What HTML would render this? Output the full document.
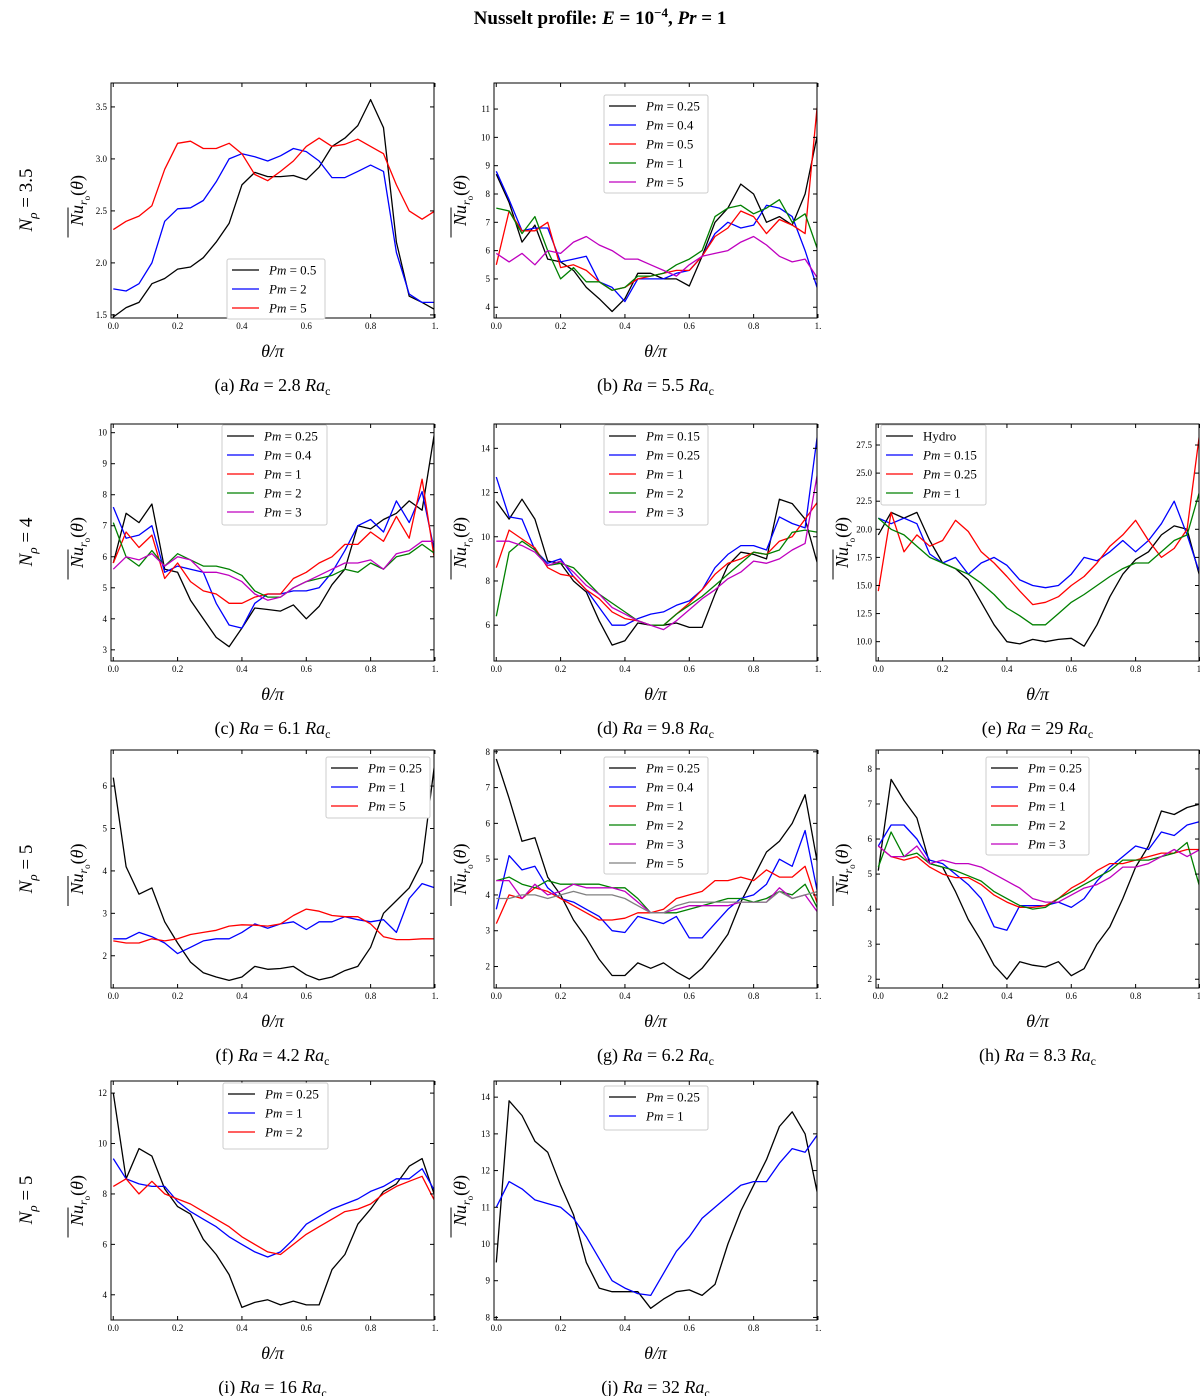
<!DOCTYPE html>
<html><head><meta charset="utf-8"><style>
body{margin:0;background:#fff}
svg{display:block;font-family:"Liberation Serif",serif}
</style></head><body>
<svg id="c" width="1200" height="1396" viewBox="0 0 1200 1396" xmlns="http://www.w3.org/2000/svg">
<text x="600" y="24" text-anchor="middle" font-size="19" font-weight="bold">Nusselt profile: <tspan font-style="italic">E</tspan> = 10<tspan dy="-7" font-size="13">−4</tspan><tspan dy="7">,  </tspan><tspan font-style="italic">Pr</tspan> = 1</text>
<g transform="translate(32,200) rotate(-90)"><text text-anchor="middle" font-size="19"><tspan font-style="italic">N</tspan><tspan font-style="italic" font-size="13" dy="5">ρ</tspan><tspan dy="-5"> = 3.5</tspan></text></g>
<g transform="translate(32,542) rotate(-90)"><text text-anchor="middle" font-size="19"><tspan font-style="italic">N</tspan><tspan font-style="italic" font-size="13" dy="5">ρ</tspan><tspan dy="-5"> = 4</tspan></text></g>
<g transform="translate(32,869) rotate(-90)"><text text-anchor="middle" font-size="19"><tspan font-style="italic">N</tspan><tspan font-style="italic" font-size="13" dy="5">ρ</tspan><tspan dy="-5"> = 5</tspan></text></g>
<g transform="translate(32,1200) rotate(-90)"><text text-anchor="middle" font-size="19"><tspan font-style="italic">N</tspan><tspan font-style="italic" font-size="13" dy="5">ρ</tspan><tspan dy="-5"> = 5</tspan></text></g>
</svg>
<script>
const theta=[0,.04,.08,.12,.16,.2,.24,.28,.32,.36,.4,.44,.48,.52,.56,.6,.64,.68,.72,.76,.8,.84,.88,.92,.96,1];
const a_pm05=[1.48,1.57,1.62,1.8,1.85,1.94,1.96,2.05,2.2,2.38,2.75,2.87,2.83,2.83,2.84,2.8,2.92,3.12,3.2,3.32,3.57,3.3,2.2,1.68,1.62,1.55];
const a_pm2=[1.75,1.73,1.8,2.0,2.4,2.52,2.53,2.6,2.78,3.0,3.05,3.02,2.98,3.03,3.1,3.07,2.98,2.82,2.82,2.88,2.94,2.88,2.1,1.7,1.62,1.62];
const a_pm5=[2.32,2.4,2.45,2.55,2.9,3.15,3.17,3.1,3.1,3.15,3.05,2.85,2.79,2.88,2.98,3.12,3.2,3.12,3.14,3.19,3.12,3.05,2.75,2.5,2.42,2.5];
const b_pm025=[8.7,7.7,6.3,6.9,5.7,5.6,5.3,4.7,4.3,3.85,4.3,5.2,5.2,5.0,5.0,4.75,5.8,7.0,7.5,8.35,8.0,7.0,7.2,6.9,8.0,10.2];
const b_pm04=[8.8,7.8,6.7,6.8,6.8,5.6,5.7,5.8,4.9,4.7,4.2,5.0,5.0,5.0,5.2,5.3,5.8,6.6,7.0,6.8,6.9,7.6,7.5,7.2,6.0,4.6];
const b_pm05=[5.5,7.4,6.7,6.7,7.0,5.4,5.5,5.3,4.9,4.6,4.7,5.0,5.1,5.2,5.3,5.3,5.8,6.5,6.8,7.4,7.2,6.6,7.1,6.9,6.6,11.4];
const b_pm1=[7.5,7.4,6.6,7.2,6.0,5.0,5.4,4.9,4.9,4.6,4.7,5.1,5.1,5.2,5.5,5.7,6.0,7.2,7.5,7.6,7.3,7.5,7.8,7.0,7.3,6.0];
const b_pm5=[5.9,5.6,5.9,5.5,6.0,5.9,6.3,6.5,6.2,6.0,5.7,5.7,5.5,5.3,5.1,5.5,5.8,5.9,6.0,6.3,6.5,6.2,5.8,5.6,5.7,5.0];
const c_pm025=[5.8,7.4,7.1,7.7,5.6,5.5,4.6,4.0,3.4,3.1,3.7,4.35,4.3,4.25,4.45,4.0,4.4,5.1,5.6,7.0,6.9,7.2,7.4,7.8,7.5,10.1];
const c_pm04=[7.6,6.6,6.7,7.0,5.5,5.7,5.6,5.5,4.5,3.8,3.7,4.5,4.8,4.8,4.9,4.9,5.0,5.5,6.2,7.0,7.2,6.8,7.8,7.1,8.1,6.1];
const c_pm1=[5.8,6.8,6.3,6.7,5.3,5.8,5.2,4.9,4.8,4.5,4.5,4.7,4.8,4.8,5.3,5.5,5.8,6.0,6.4,6.4,6.8,6.5,7.3,6.6,8.5,5.8];
const c_pm2=[7.1,6.0,5.7,6.2,5.7,6.1,5.9,5.7,5.7,5.6,5.4,4.9,4.7,4.7,5.0,5.2,5.3,5.4,5.6,5.5,5.8,5.6,6.0,6.1,6.4,6.1];
const c_pm3=[5.6,6.0,5.9,6.1,5.7,6.0,5.9,5.5,5.5,5.4,5.2,4.8,4.6,4.7,5.0,5.2,5.4,5.6,5.8,5.8,5.9,5.6,6.1,6.2,6.5,6.5];
const d_pm015=[11.6,10.8,11.7,10.8,8.9,8.8,8.0,7.5,6.2,5.1,5.3,6.1,6.0,6.0,6.1,5.9,5.9,7.4,8.7,9.3,9.2,9.0,11.7,11.5,10.8,8.7];
const d_pm025=[12.7,10.9,10.8,9.4,8.8,9.0,8.2,7.6,6.8,6.0,6.0,6.3,6.5,6.6,6.9,7.1,7.6,8.6,9.2,9.6,9.6,9.4,10.9,10.6,10.4,14.8];
const d_pm1=[8.6,10.3,9.9,9.5,8.6,8.3,8.2,7.6,7.2,6.6,6.3,6.2,6.0,6.0,6.5,7.0,7.6,8.3,8.8,9.0,9.3,9.2,9.8,10.0,10.8,11.6];
const d_pm2=[6.4,9.3,9.8,9.4,8.7,8.8,8.6,8.0,7.4,7.0,6.6,6.2,6.0,6.0,6.5,6.9,7.3,7.8,8.3,8.8,9.3,9.2,9.4,10.2,10.3,10.2];
const d_pm3=[9.8,9.8,9.6,9.3,8.7,8.9,8.4,7.8,7.4,6.8,6.5,6.2,6.0,5.8,6.2,6.7,7.2,7.6,8.1,8.4,8.9,8.8,9.0,9.4,9.7,13.0];
const e_hydro=[19.5,21.5,21.0,21.5,19.0,17.0,16.5,15.5,13.5,11.5,10.0,9.8,10.2,10.0,10.2,10.3,9.6,11.5,14.0,16.0,17.3,18.0,19.5,20.3,20.0,15.7];
const e_pm015=[21.0,20.5,21.0,20.5,17.8,17.0,17.5,16.0,17.0,17.5,16.8,15.5,15.0,14.8,15.0,16.0,17.5,17.2,18.0,19.0,18.0,19.0,20.5,22.5,19.5,16.0];
const e_pm025=[14.5,21.5,18.0,19.5,18.5,19.0,20.8,19.8,18.0,17.0,15.8,14.5,13.3,13.5,14.0,15.0,15.8,17.0,18.5,19.5,20.8,19.0,17.5,18.3,20.0,28.8];
const e_pm1=[21.0,20.0,19.5,18.5,17.5,17.0,16.5,16.0,15.2,14.2,13.0,12.3,11.5,11.5,12.5,13.5,14.2,15.0,15.8,16.5,17.0,17.0,18.0,19.0,19.5,23.5];
const f_pm025=[6.2,4.1,3.45,3.6,2.8,2.3,1.85,1.6,1.5,1.42,1.5,1.75,1.68,1.7,1.75,1.55,1.43,1.5,1.65,1.75,2.2,3.0,3.3,3.6,4.2,6.6];
const f_pm1=[2.4,2.4,2.55,2.45,2.3,2.05,2.2,2.35,2.4,2.4,2.55,2.75,2.65,2.75,2.8,2.62,2.8,2.8,2.92,2.85,2.8,2.85,2.55,3.35,3.7,3.6];
const f_pm5=[2.35,2.3,2.3,2.4,2.35,2.4,2.5,2.55,2.6,2.7,2.73,2.72,2.7,2.75,2.95,3.1,3.05,2.95,2.92,2.92,2.75,2.45,2.38,2.38,2.4,2.4];
const g_pm025=[7.8,6.7,5.5,5.6,4.5,4.0,3.3,2.8,2.2,1.75,1.75,2.1,1.95,2.1,1.85,1.65,1.95,2.4,2.9,3.8,4.5,5.2,5.5,6.0,6.8,4.8];
const g_pm04=[3.6,5.1,4.7,4.8,4.2,3.9,3.8,3.6,3.4,3.0,2.95,3.4,3.3,3.2,3.4,2.8,2.8,3.2,3.6,3.9,4.0,4.3,5.0,4.8,5.8,4.0];
const g_pm1=[3.2,4.0,3.9,4.2,4.1,3.9,3.7,3.5,3.3,3.3,3.35,3.5,3.5,3.6,3.9,4.0,4.1,4.4,4.4,4.5,4.4,4.7,4.5,4.5,4.8,3.7];
const g_pm2=[4.4,4.5,4.3,4.2,4.4,4.3,4.3,4.3,4.3,4.2,4.2,3.9,3.5,3.5,3.5,3.6,3.7,3.8,3.9,3.9,3.8,3.9,4.1,4.0,4.3,3.6];
const g_pm3=[4.4,4.4,3.9,4.3,4.0,4.1,4.3,4.2,4.2,4.2,4.1,3.8,3.5,3.5,3.6,3.7,3.7,3.7,3.7,3.8,3.8,3.8,4.2,3.9,4.0,3.5];
const g_pm5=[3.9,3.9,4.0,4.0,3.9,4.0,4.1,4.0,4.0,4.0,3.9,3.7,3.5,3.5,3.7,3.8,3.8,3.8,3.8,3.8,3.8,3.8,4.1,3.9,4.0,4.1];
const h_pm025=[5.1,7.7,7.1,6.6,5.3,5.2,4.5,3.7,3.1,2.4,2.0,2.5,2.4,2.35,2.5,2.1,2.3,3.0,3.5,4.3,5.2,5.8,6.8,6.7,6.9,7.0];
const h_pm04=[5.8,6.4,6.4,6.0,5.4,5.3,5.0,4.7,4.3,3.5,3.4,4.1,4.1,4.1,4.2,4.05,4.3,4.8,5.2,5.5,5.8,5.7,6.2,6.1,6.4,6.5];
const h_pm1=[5.8,5.5,5.4,5.5,5.2,5.0,4.9,4.9,4.7,4.4,4.2,4.05,4.05,4.1,4.3,4.6,4.8,5.1,5.3,5.3,5.4,5.5,5.6,5.6,5.7,5.7];
const h_pm2=[5.2,6.2,5.5,5.6,5.3,5.2,5.1,4.95,4.8,4.5,4.3,4.1,4.0,4.05,4.3,4.5,4.7,4.9,5.1,5.4,5.4,5.4,5.5,5.6,5.9,4.6];
const h_pm3=[5.8,5.5,5.5,5.8,5.3,5.4,5.3,5.3,5.2,5.0,4.8,4.6,4.3,4.2,4.2,4.4,4.6,4.7,4.9,5.2,5.2,5.3,5.5,5.7,5.5,5.7];
const i_pm025=[12.0,8.6,9.8,9.5,8.2,7.5,7.2,6.2,5.6,4.8,3.5,3.7,3.8,3.6,3.75,3.6,3.6,5.0,5.6,6.8,7.4,8.1,8.4,9.1,9.4,7.9];
const i_pm1=[9.4,8.6,8.4,8.3,8.3,7.7,7.3,7.0,6.7,6.3,6.0,5.7,5.5,5.7,6.2,6.8,7.1,7.4,7.6,7.8,8.1,8.3,8.6,8.6,9.0,8.1];
const i_pm2=[8.3,8.6,8.0,8.5,8.0,7.8,7.6,7.3,7.0,6.7,6.3,6.0,5.7,5.6,6.0,6.4,6.7,7.0,7.3,7.4,7.6,8.0,8.3,8.5,8.7,7.7];
const j_pm025=[9.5,13.9,13.5,12.8,12.5,11.6,10.8,9.5,8.8,8.7,8.7,8.7,8.25,8.5,8.7,8.75,8.6,8.9,10.0,10.9,11.6,12.3,13.2,13.6,13.0,11.3];
const j_pm1=[11.0,11.7,11.5,11.2,11.1,11.0,10.7,10.2,9.6,9.0,8.8,8.65,8.6,9.2,9.8,10.2,10.7,11.0,11.3,11.6,11.7,11.7,12.2,12.6,12.5,13.0];
const xTicks=[0,.2,.4,.6,.8,1];
const xTickLabels=["0.0","0.2","0.4","0.6","0.8","1."];

const NS="http://www.w3.org/2000/svg";
const svg=document.getElementById('c');
function mk(t,at,p){const e=document.createElementNS(NS,t);for(const k in at)e.setAttribute(k,at[k]);(p||svg).appendChild(e);return e;}
const K='#000',B='#0000ff',R='#ff0000',G='#008000',M='#bf00bf',Y='#808080';
const colX=[111,494,876], rowY=[[83,318],[424,661],[750,988],[1081,1320]];
const panels=[
 {id:'a',c:0,r:0,y0:1.47,y1:3.73,yt:[1.5,2.0,2.5,3.0,3.5],yf:1,cap:'(a)',ra:'2.8',s:[[a_pm05,K,'0.5'],[a_pm2,B,'2'],[a_pm5,R,'5']],lg:[227,259,98,60]},
 {id:'b',c:1,r:0,y0:3.62,y1:11.92,yt:[4,5,6,7,8,9,10,11],yf:0,cap:'(b)',ra:'5.5',s:[[b_pm025,K,'0.25'],[b_pm04,B,'0.4'],[b_pm05,R,'0.5'],[b_pm1,G,'1'],[b_pm5,M,'5']],lg:[604,95,104,98]},
 {id:'c',c:0,r:1,y0:2.64,y1:10.28,yt:[3,4,5,6,7,8,9,10],yf:0,cap:'(c)',ra:'6.1',s:[[c_pm025,K,'0.25'],[c_pm04,B,'0.4'],[c_pm1,R,'1'],[c_pm2,G,'2'],[c_pm3,M,'3']],lg:[222,425,105,100]},
 {id:'d',c:1,r:1,y0:4.38,y1:15.1,yt:[6,8,10,12,14],yf:0,cap:'(d)',ra:'9.8',s:[[d_pm015,K,'0.15'],[d_pm025,B,'0.25'],[d_pm1,R,'1'],[d_pm2,G,'2'],[d_pm3,M,'3']],lg:[604,425,104,100]},
 {id:'e',c:2,r:1,y0:8.28,y1:29.37,yt:[10,12.5,15,17.5,20,22.5,25,27.5],yf:1,cap:'(e)',ra:'29',s:[[e_hydro,K,'Hydro'],[e_pm015,B,'0.15'],[e_pm025,R,'0.25'],[e_pm1,G,'1']],lg:[881,425,105,80]},
 {id:'f',c:0,r:2,y0:1.24,y1:6.85,yt:[2,3,4,5,6],yf:0,cap:'(f)',ra:'4.2',s:[[f_pm025,K,'0.25'],[f_pm1,B,'1'],[f_pm5,R,'5']],lg:[326,757,104,61]},
 {id:'g',c:1,r:2,y0:1.4,y1:8.05,yt:[2,3,4,5,6,7,8],yf:0,cap:'(g)',ra:'6.2',s:[[g_pm025,K,'0.25'],[g_pm04,B,'0.4'],[g_pm1,R,'1'],[g_pm2,G,'2'],[g_pm3,M,'3'],[g_pm5,Y,'5']],lg:[604,757,104,117]},
 {id:'h',c:2,r:2,y0:1.75,y1:8.54,yt:[2,3,4,5,6,7,8],yf:0,cap:'(h)',ra:'8.3',s:[[h_pm025,K,'0.25'],[h_pm04,B,'0.4'],[h_pm1,R,'1'],[h_pm2,G,'2'],[h_pm3,M,'3']],lg:[986,757,103,98]},
 {id:'i',c:0,r:3,y0:3.0,y1:12.48,yt:[4,6,8,10,12],yf:0,cap:'(i)',ra:'16',s:[[i_pm025,K,'0.25'],[i_pm1,B,'1'],[i_pm2,R,'2']],lg:[223,1083,105,66]},
 {id:'j',c:1,r:3,y0:7.93,y1:14.44,yt:[8,9,10,11,12,13,14],yf:0,cap:'(j)',ra:'32',s:[[j_pm025,K,'0.25'],[j_pm1,B,'1']],lg:[604,1086,104,44]}
];
panels.forEach(p=>{
 const L=colX[p.c],Rr=L+323,T=rowY[p.r][0],Bt=rowY[p.r][1];
 const xs=v=>L+(v+0.007)/(1.004)*(Rr-L);
 const ys=v=>Bt-(v-p.y0)/(p.y1-p.y0)*(Bt-T);
 const g=mk('g',{});
 
 
 const clipId='clip'+p.id;
 const cp=mk('clipPath',{id:clipId},g);mk('rect',{x:L,y:T,width:Rr-L,height:Bt-T},cp);
 const lines=mk('g',{'clip-path':'url(#'+clipId+')'},g);
 p.s.forEach((s,k)=>{
  const d=s[0].map((v,i)=>(i?'L':'M')+xs(theta[i]).toFixed(1)+','+ys(v).toFixed(1)).join('');
  const pl=mk('path',{d:d,fill:'none',stroke:s[1],'stroke-width':1.3,'stroke-linejoin':'round'},lines);
  
  
 });
 const fr=mk('rect',{x:L,y:T,width:Rr-L,height:Bt-T,fill:'none',stroke:'#000','stroke-width':1},g);
 
 
 xTicks.forEach((t,i)=>{
  const x=xs(t);
  mk('line',{x1:x,x2:x,y1:Bt,y2:Bt-4,stroke:'#000'},g);
  mk('line',{x1:x,x2:x,y1:T,y2:T+4,stroke:'#000'},g);
  const tl=mk('text',{x:x,y:Bt+11,'text-anchor':'middle','font-size':9},g);tl.textContent=xTickLabels[i];
  
  
 });
 p.yt.forEach(t=>{
  const y=ys(t);
  mk('line',{x1:L,x2:L+4,y1:y,y2:y,stroke:'#000'},g);
  mk('line',{x1:Rr,x2:Rr-4,y1:y,y2:y,stroke:'#000'},g);
  const tl=mk('text',{x:L-4,y:y+3,'text-anchor':'end','font-size':9},g);tl.textContent=p.yf?t.toFixed(1):String(t);
  
  
 });
 // axis labels
 const xl=mk('text',{x:(L+Rr)/2,y:Bt+39,'text-anchor':'middle','font-size':18,'font-style':'italic'},g);
 xl.textContent='θ/π';
 
 
 const yc=(T+Bt)/2, yx=L-28;
 const yg=mk('g',{transform:'translate('+yx+','+yc+') rotate(-90)'},g);
 
 
 const yl=mk('text',{x:0,y:0,'text-anchor':'middle','font-size':18},yg);
 yl.innerHTML='<tspan font-style="italic">Nu</tspan><tspan font-style="italic" font-size="12" dy="4">r</tspan><tspan font-size="9" dy="3">o</tspan><tspan dy="-7">(</tspan><tspan font-style="italic">θ</tspan>)';
 mk('line',{x1:-37,x2:-7,y1:-15,y2:-15,stroke:'#000','stroke-width':1},yg);
 // caption
 const cap=mk('text',{x:(L+Rr)/2,y:Bt+73,'text-anchor':'middle','font-size':18},g);
 cap.innerHTML=p.cap+' <tspan font-style="italic">Ra</tspan> = '+p.ra+' <tspan font-style="italic">Ra</tspan><tspan font-size="12" dy="4">c</tspan>';
 
 
 // legend
 const lgd=mk('g',{},g);
 
 
 const [lx,ly,lw,lh]=p.lg;
 mk('rect',{x:lx,y:ly,width:lw,height:lh,fill:'#fff',stroke:'#ccc','stroke-width':1,rx:2},lgd);
 p.s.forEach((s,k)=>{
  const ey=ly+11+k*19;
  const en=mk('g',{},lgd);
  
  
  mk('line',{x1:lx+5,x2:lx+32,y1:ey,y2:ey,stroke:s[1],'stroke-width':1.3},en);
  const t=mk('text',{x:lx+42,y:ey+4.5,'font-size':13},en);
  if(s[2]==='Hydro')t.textContent='Hydro';
  else t.innerHTML='<tspan font-style="italic">Pm</tspan> = '+s[2];
 });
});
</script>
</body></html>
